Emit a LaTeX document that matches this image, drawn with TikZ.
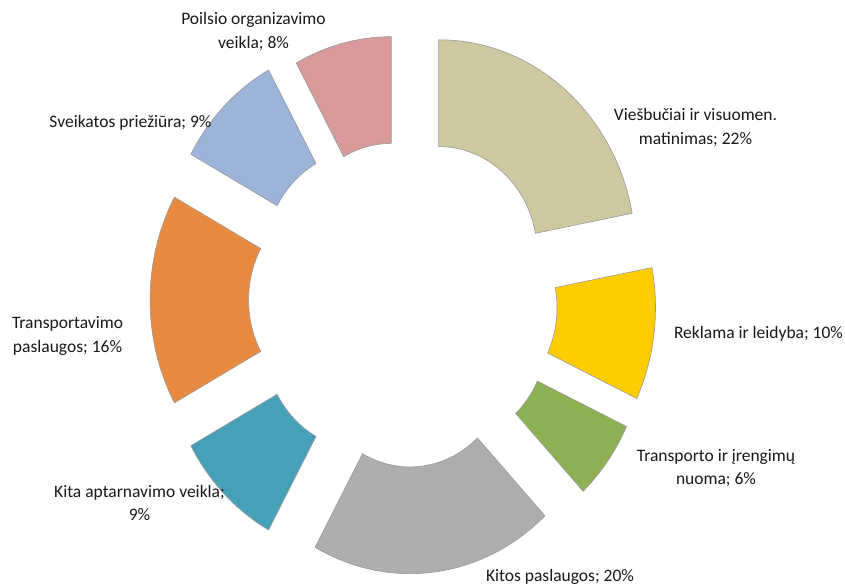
\documentclass[tikz,border=0pt]{standalone}
\usepackage{fontspec}
\setmainfont{Carlito}
\usetikzlibrary{calc}
\definecolor{cHotel}{RGB}{207,200,160}
\definecolor{cAds}{RGB}{255,204,0}
\definecolor{cRent}{RGB}{141,177,83}
\definecolor{cOther}{RGB}{174,174,174}
\definecolor{cServ}{RGB}{70,160,184}
\definecolor{cTrans}{RGB}{232,139,65}
\definecolor{cHealth}{RGB}{156,179,218}
\definecolor{cLeis}{RGB}{217,154,155}
\tikzset{
  seg/.style={draw=black!40, line width=0.6pt, line join=round},
  lbl/.style={anchor=base, inner sep=0pt, text=black!90, font=\fontsize{17.5}{23.6}\selectfont}
}
% #1 name, #2 start angle (clockwise from top), #3 end angle, #4 explosion, #5 colour
\newcommand{\dseg}[5]{%
  \pgfmathsetmacro{\sgA}{#2-90}%
  \pgfmathsetmacro{\sgB}{#3-90}%
  \pgfmathsetmacro{\sgM}{(#2+#3)/2-90}%
  \pgfmathsetmacro{\sgCX}{403+#4*197*cos(\sgM)}%
  \pgfmathsetmacro{\sgCY}{300+#4*213.5*sin(\sgM)}%
  \pgfmathsetmacro{\sgPX}{\sgCX+197*cos(\sgA)}%
  \pgfmathsetmacro{\sgPY}{\sgCY+213.5*sin(\sgA)}%
  \pgfmathsetmacro{\sgQX}{\sgCX+98.5*cos(\sgB)}%
  \pgfmathsetmacro{\sgQY}{\sgCY+106.75*sin(\sgB)}%
  \coordinate (#1) at (\sgCX,\sgCY);
  \filldraw[seg, fill=#5] (\sgPX,\sgPY)
    arc[start angle=\sgA, end angle=\sgB, x radius=197, y radius=213.5]
    -- (\sgQX,\sgQY)
    arc[start angle=\sgB, end angle=\sgA, x radius=98.5, y radius=106.75]
    -- cycle;
}
\begin{document}
\begin{tikzpicture}[x=1pt,y=-1pt]
\useasboundingbox[fill=white] (0,0) rectangle (845,584);
\dseg{sHotel}{0}{79.2}{0.284}{cHotel}
\dseg{sAds}{79.2}{115.2}{0.284}{cAds}
\dseg{sRent}{115.2}{136.8}{0.284}{cRent}
\dseg{sOther}{136.8}{208.8}{0.284}{cOther}
\dseg{sServ}{208.8}{241.2}{0.284}{cServ}
\dseg{sTrans}{241.2}{298.8}{0.284}{cTrans}
\dseg{sHealth}{298.8}{331.2}{0.284}{cHealth}
\dseg{sLeis}{331.2}{360}{0.241}{cLeis}

\node[lbl] (lHotel) at (695.5,120.7) {\begin{tabular}[t]{@{}c@{}}Viešbučiai ir visuomen.\\ matinimas; 22\%\end{tabular}};
\node[lbl] (lAds) at (758.5,338.5) {Reklama ir leidyba; 10\%};
\node[lbl] (lRent) at (716,461) {\begin{tabular}[t]{@{}c@{}}Transporto ir įrengimų\\ nuoma; 6\%\end{tabular}};
\node[lbl] (lOther) at (560,581) {Kitos paslaugos; 20\%};
\node[lbl] (lServ) at (139.5,497) {\begin{tabular}[t]{@{}c@{}}Kita aptarnavimo veikla;\\ 9\%\end{tabular}};
\node[lbl] (lTrans) at (67.5,328.5) {\begin{tabular}[t]{@{}c@{}}Transportavimo\\ paslaugos; 16\%\end{tabular}};
\node[lbl] (lHealth) at (130.5,127) {Sveikatos priežiūra; 9\%};
\node[lbl] (lLeis) at (253.5,24.5) {\begin{tabular}[t]{@{}c@{}}Poilsio organizavimo\\ veikla; 8\%\end{tabular}};
\end{tikzpicture}
\end{document}
